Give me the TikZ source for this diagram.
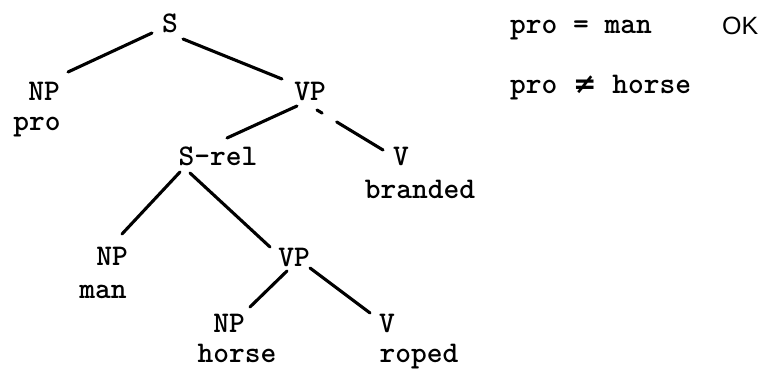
\documentclass[tikz,border=0pt]{standalone}
\usepackage{fontspec}
\newfontfamily\symfam{DejaVu Sans}
\newfontfamily\okfam{Liberation Sans}
\newcommand\treefont{\fontsize{30}{36}\selectfont\ttfamily\fontseries{b}\selectfont}
\newcommand\okfont{\fontsize{25}{30}\selectfont\okfam}
\tikzset{
  lab/.style={font=\treefont, inner sep=0pt, anchor=base},
  side/.style={font=\treefont, inner sep=0pt, anchor=base west},
  branch/.style={line width=3.1pt, line cap=round}
}
\begin{document}
\begin{tikzpicture}[x=1pt,y=-1pt]
\useasboundingbox (0,0) rectangle (761,369);
% categories
\node[lab] (S)    at (170,33)  {S};
\node[lab] (NPa)  at (44,101)  {NP};
\node[lab] (pro)  at (37,131)  {pro};
\node[lab] (VPa)  at (310,100) {VP};
\node[lab] (Srel) at (218,165) {S-rel};
\node[lab] (Va)   at (401,165) {V};
\node[lab] (brd)  at (420,198) {branded};
\node[lab] (NPb)  at (112,265) {NP};
\node[lab] (man)  at (103,298) {man};
\node[lab] (VPb)  at (294,266) {VP};
\node[lab] (NPc)  at (229,332) {NP};
\node[lab] (horse) at (237,362) {horse};
\node[lab] (Vb)   at (387,332) {V};
\node[lab] (roped) at (419,362) {roped};
% side notes
\node[side] (eq)  at (510,34) {pro = man};
\node[font=\okfont, inner sep=0pt, anchor=base west] (ok) at (722,35) {OK};
\node[side] (neq) at (510,93) {pro {\symfam\fontsize{28}{34}\selectfont ≠} horse};
% branches
\draw[branch] ([shift={(-18,0)}]S.base)   -- ([shift={(24,-29)}]NPa.base);
\draw[branch] ([shift={(13,6)}]S.base)    -- ([shift={(-28,-21)}]VPa.base);
\draw[branch] ([shift={(-13,6)}]VPa.base) -- ([shift={(9,-27)}]Srel.base);
\draw[branch, dash pattern={on 6pt off 17pt on 80pt}] ([shift={(7,10)}]VPa.base) -- ([shift={(-18,-15)}]Va.base);
\draw[branch] ([shift={(-38,7)}]Srel.base) -- ([shift={(10,-31)}]NPb.base);
\draw[branch] ([shift={(-28,8)}]Srel.base) -- ([shift={(-24,-19)}]VPb.base);
\draw[branch] ([shift={(-7,5)}]VPb.base)  -- ([shift={(21,-25)}]NPc.base);
\draw[branch] ([shift={(16,2)}]VPb.base)  -- ([shift={(-17,-19)}]Vb.base);
\end{tikzpicture}
\end{document}
